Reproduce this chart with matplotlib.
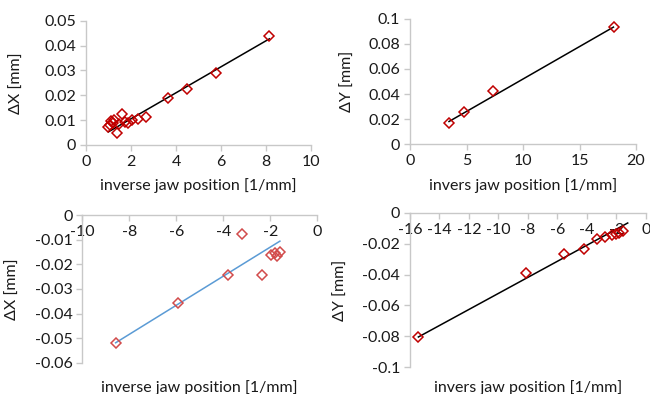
import matplotlib
matplotlib.use("Agg")
import matplotlib.pyplot as plt
from matplotlib.ticker import FuncFormatter, MultipleLocator

plt.rcParams['font.family'] = ['Lato', 'DejaVu Sans']

# ---- data ----
# top left: dX vs inverse jaw position
tl_x = [1.00, 1.05, 1.12, 1.18, 1.25, 1.36, 1.45, 1.61, 1.75, 1.88, 2.05, 2.33, 2.65, 3.66, 4.49, 5.78, 8.15]
tl_y = [0.0072, 0.0080, 0.0095, 0.0088, 0.0100, 0.0047, 0.0085, 0.0126, 0.0092, 0.0088,
        0.0100, 0.0103, 0.0112, 0.0190, 0.0225, 0.0288, 0.0438]
tl_fit_x = [1.00, 8.15]
tl_fit_y = [0.0053, 0.0427]

# top right: dY vs inverse jaw position
tr_x = [3.45, 4.75, 7.37, 18.08]
tr_y = [0.0166, 0.0259, 0.0421, 0.0933]
tr_fit_x = [3.45, 18.0]
tr_fit_y = [0.0180, 0.0935]

# bottom left: dX vs negative inverse jaw position
bl_x = [-8.58, -5.94, -3.80, -3.19, -2.37, -1.97, -1.80, -1.72, -1.59]
bl_y = [-0.0518, -0.0358, -0.0245, -0.0078, -0.0242, -0.0162, -0.0153, -0.0165, -0.0148]
bl_fit_x = [-8.58, -1.59]
bl_fit_y = [-0.0518, -0.0106]

# bottom right: dY vs negative inverse jaw position
br_x = [-15.42, -8.10, -5.55, -4.19, -3.33, -2.77, -2.32, -2.04, -1.82, -1.57]
br_y = [-0.0807, -0.0390, -0.0265, -0.0232, -0.0172, -0.0158, -0.0142, -0.0135, -0.0128, -0.0114]
br_fit_x = [-15.42, -1.23]
br_fit_y = [-0.0805, -0.0065]

AXIS_GREY = '#c8c8c8'
TEXT = '#1a1a1a'
FS = 11.5


def fmt(v, pos):
    s = '{:.2f}'.format(v).rstrip('0').rstrip('.')
    if s in ('-0', '-0.'):
        s = '0'
    return s


def style(ax, xlim, ylim, xstep, ystep, negative):
    ax.set_xlim(*xlim)
    ax.set_ylim(*ylim)
    ax.xaxis.set_major_locator(MultipleLocator(xstep))
    ax.yaxis.set_major_locator(MultipleLocator(ystep))
    ax.xaxis.set_major_formatter(FuncFormatter(fmt))
    ax.yaxis.set_major_formatter(FuncFormatter(fmt))
    for s in ('top', 'right'):
        ax.spines[s].set_visible(False)
    for s in ('left', 'bottom'):
        ax.spines[s].set_color(AXIS_GREY)
        ax.spines[s].set_linewidth(1.0)
    if negative:
        ax.spines['bottom'].set_position(('data', 0))
    ax.tick_params(colors=AXIS_GREY, labelcolor=TEXT, labelsize=FS,
                   direction='out', length=4, width=1.0, pad=3)
    ax.set_facecolor('none')


fig = plt.figure(figsize=(6.5, 3.94), dpi=100)

panels = [
    # rect, data, limits, steps, colours, labels, label coords
    ([0.1323, 0.6320, 0.3462, 0.3155], tl_x, tl_y, tl_fit_x, tl_fit_y,
     (0, 10), (0, 0.05), 2, 0.01, '#c00000', 'black',
     'inverse jaw position [1/mm]', 'ΔX [mm]', (-0.275, 0.5), (0.5, -0.27), False),
    ([0.6308, 0.6345, 0.3477, 0.3173], tr_x, tr_y, tr_fit_x, tr_fit_y,
     (0, 20), (0, 0.1), 5, 0.02, '#c00000', 'black',
     'invers jaw position [1/mm]', 'ΔY [mm]', (-0.245, 0.5), (0.5, -0.27), False),
    ([0.1266, 0.0787, 0.3615, 0.3756], bl_x, bl_y, bl_fit_x, bl_fit_y,
     (-10, 0), (-0.06, 0), 2, 0.01, '#d24b4b', '#5b9bd5',
     'inverse jaw position [1/mm]', 'ΔX [mm]', (-0.265, 0.5), (0.5, -0.115), True),
    ([0.6305, 0.0685, 0.3631, 0.3909], br_x, br_y, br_fit_x, br_fit_y,
     (-16, 0), (-0.1, 0), 2, 0.02, '#c00000', 'black',
     'invers jaw position [1/mm]', 'ΔY [mm]', (-0.262, 0.5), (0.5, -0.085), True),
]

for (rect, x, y, fx, fy, xlim, ylim, xs, ys, mcol, lcol,
     xlab, ylab, ylc, xlc, neg) in panels:
    ax = fig.add_axes(rect)
    style(ax, xlim, ylim, xs, ys, neg)
    ax.plot(x, y, linestyle='none', marker='D', markersize=5.3,
            markerfacecolor='none', markeredgecolor=mcol, markeredgewidth=1.1,
            zorder=3, clip_on=False)
    ax.plot(fx, fy, color=lcol, linewidth=1.1, zorder=2, clip_on=False)
    ax.set_xlabel(xlab, fontsize=FS, color=TEXT)
    ax.set_ylabel(ylab, fontsize=FS, color=TEXT)
    ax.yaxis.set_label_coords(*ylc)
    ax.xaxis.set_label_coords(*xlc)

fig.savefig('out.png', dpi=100, facecolor='white')
